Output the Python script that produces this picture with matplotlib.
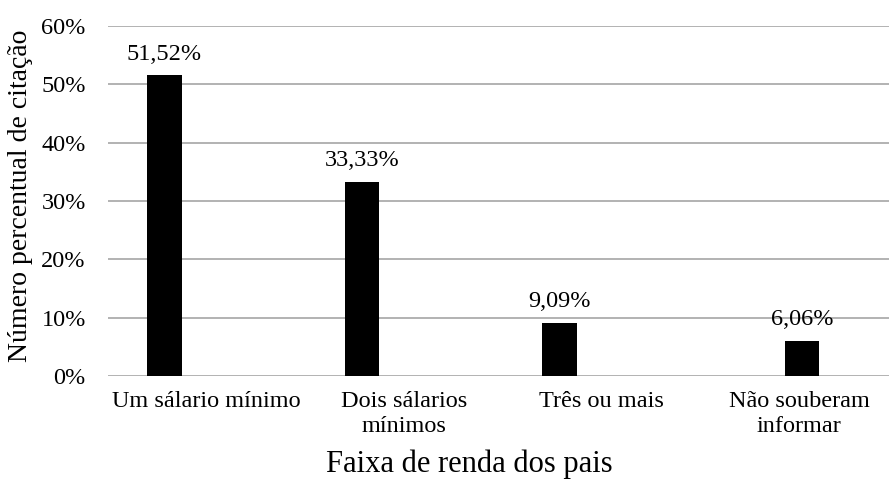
import matplotlib
matplotlib.use("Agg")
import matplotlib.pyplot as plt
import numpy as np

categories = ["Um sálario mínimo", "Dois sálarios\nmínimos", "Três ou mais", "Não souberam\ninformar"]
values = [51.52, 33.33, 9.09, 6.06]
value_labels = ["51,52%", "33,33%", "9,09%", "6,06%"]
yticks = [0, 10, 20, 30, 40, 50, 60]
ytick_labels = ["0%", "10%", "20%", "30%", "40%", "50%", "60%"]

plt.rcParams['font.family'] = ['Liberation Serif', 'DejaVu Serif']

fig = plt.figure(figsize=(8.89, 4.8), dpi=100)
ax = fig.add_axes([108/889, 1-376/480, 790/889, 350/480])

x = np.arange(len(categories))
# series slot offsets (clustered bar layout of the original)
slot = np.array([0, 0, 0, 1])
slot_offsets = np.array([-0.215, 0.015])
bar_w = 0.175
xpos = x + slot_offsets[slot]
ax.bar(xpos, values, width=bar_w, color="black", zorder=3)

for xp, v, lab in zip(xpos, values, value_labels):
    ax.text(xp, v + 1.8, lab, ha="center", va="bottom", fontsize=17.5, zorder=4)

ax.set_xlim(-0.5, 3.5)
ax.set_ylim(0, 60)
ax.set_yticks(yticks)
ax.set_yticklabels(ytick_labels, fontsize=17.5)
ax.set_xticks(x)
ax.set_xticklabels(categories, fontsize=17.5, linespacing=1.25)
ax.tick_params(axis="both", length=0)
ax.tick_params(axis="y", pad=16)
ax.tick_params(axis="x", pad=11)
ax.grid(axis="y", color="#a6a6a6", linewidth=1.2, zorder=0)
for s in ax.spines.values():
    s.set_visible(False)

ax.set_xlabel("Faixa de renda dos pais", fontsize=22, labelpad=8.5)
ax.set_ylabel("Número percentual de citação", fontsize=20, labelpad=6)
ax.xaxis.label.set_x(0.457)
ax.yaxis.label.set_y(0.516)

fig.savefig("out.png", dpi=100)
